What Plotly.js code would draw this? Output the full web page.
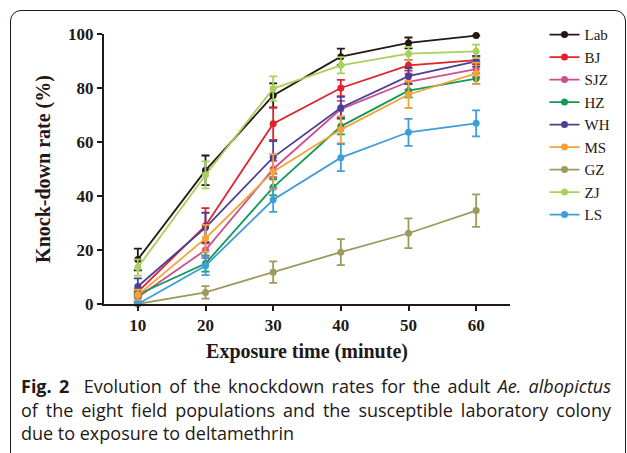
<!DOCTYPE html>
<html>
<head>
<meta charset="utf-8">
<script src="https://cdn.plot.ly/plotly-3.0.1.min.js"></script>
<style>
html,body{margin:0;padding:0;background:#fff;}
#wrap{position:relative;width:627px;height:453px;overflow:hidden;}
#chart{position:absolute;left:0;top:0;width:627px;height:453px;}
#box{position:absolute;left:10px;top:10px;width:616px;height:520px;border:1.3px solid #231815;border-radius:11px;pointer-events:none;box-sizing:border-box;}
#cap{position:absolute;left:21px;top:375px;width:590px;
  font-family:"Open Sans","Noto Sans",sans-serif;font-size:18px;line-height:23.5px;color:#231815;}
#cap div{white-space:nowrap;}
#cap .j{text-align:justify;text-align-last:justify;white-space:normal;}
</style>
</head>
<body>
<div id="wrap"><div id="chart"></div><div id="box"></div><div id="cap"></div></div>
<script>
const times = [10, 20, 30, 40, 50, 60];
const names = ["Lab", "BJ", "SJZ", "HZ", "WH", "MS", "GZ", "ZJ", "LS"];
const Lab = [16.5, 49.5, 77.2, 91.6, 96.7, 99.4];
const BJ  = [4.5, 29.0, 66.8, 80.0, 88.4, 90.3];
const SJZ = [2.5, 20.0, 50.0, 72.2, 82.3, 87.0];
const HZ  = [3.5, 15.0, 43.2, 65.8, 79.0, 83.5];
const WH  = [6.5, 28.3, 54.3, 72.7, 84.4, 89.9];
const MS  = [3.3, 24.3, 49.0, 64.6, 77.6, 85.4];
const GZ  = [0.0, 4.3, 11.8, 19.2, 26.2, 34.6];
const ZJ  = [13.5, 47.8, 79.8, 88.4, 92.7, 93.6];
const LS  = [0.0, 14.2, 38.6, 54.2, 63.6, 66.9];
const errLab = [4.0, 5.5, 4.5, 3.0, 2.0, 0.0];
const errBJ  = [1.0, 6.5, 6.0, 3.0, 2.0, 1.5];
const errSJZ = [1.5, 3.0, 3.0, 3.0, 3.0, 3.0];
const errHZ  = [1.0, 3.0, 3.0, 3.0, 2.5, 2.0];
const errWH  = [3.0, 5.5, 6.0, 4.0, 3.0, 2.0];
const errMS  = [2.0, 5.0, 6.5, 5.0, 5.0, 4.0];
const errGZ  = [0.0, 2.3, 4.0, 4.8, 5.5, 6.0];
const errZJ  = [3.0, 5.0, 4.5, 3.0, 2.5, 2.5];
const errLS  = [0.5, 3.5, 4.5, 5.0, 5.0, 4.8];

const series = [Lab, BJ, SJZ, HZ, WH, MS, GZ, ZJ, LS];
const errs = [errLab, errBJ, errSJZ, errHZ, errWH, errMS, errGZ, errZJ, errLS];
const colors = ["#231815", "#e4202a", "#cc4f8e", "#119a55", "#4b3f94", "#f5a23a", "#9c9a5c", "#a9d05b", "#3f9ed8"];

const capLines = [
  "<b>Fig. 2</b>&nbsp; Evolution of the knockdown rates for the adult <i>Ae. albopictus</i>",
  "of the eight field populations and the susceptible laboratory colony",
  "due to exposure to deltamethrin"
];
document.getElementById("cap").innerHTML = capLines.map((t, i) =>
  '<div class="' + (i < 2 ? 'j' : '') + '">' + t + '</div>').join("");

const traces = names.map((n, i) => ({
  type: "scatter",
  mode: "lines+markers",
  name: n,
  x: times,
  y: series[i],
  line: {color: colors[i], width: 1.8},
  marker: {color: colors[i], size: 7},
  error_y: {type: "data", array: errs[i], visible: true, color: colors[i], thickness: 1.8, width: 4},
  cliponaxis: false
}));

const serif = "Liberation Serif, Times New Roman, serif";

const layout = {
  width: 627, height: 453,
  margin: {l: 104, r: 115, t: 34, b: 149},
  paper_bgcolor: "rgba(0,0,0,0)",
  plot_bgcolor: "rgba(0,0,0,0)",
  showlegend: true,
  legend: {
    x: 1.085, y: 1.058, xanchor: "left", yanchor: "top",
    font: {family: serif, size: 15, color: "#231815"},
    traceorder: "normal",
    bgcolor: "rgba(0,0,0,0)"
  },
  xaxis: {
    range: [5, 65], tickvals: times, ticktext: times.map(String),
    showline: true, linecolor: "#231815", linewidth: 2,
    ticks: "outside", ticklen: 5, tickwidth: 2, tickcolor: "#231815",
    showgrid: false, zeroline: false,
    tickfont: {family: serif, size: 17, color: "#231815", weight: "bold"},
    title: {text: "Exposure time (minute)", font: {family: serif, size: 20, color: "#231815", weight: "bold"}, standoff: 10}
  },
  yaxis: {
    range: [0, 100], dtick: 20,
    showline: true, linecolor: "#231815", linewidth: 2,
    ticks: "outside", ticklen: 5, tickwidth: 2, tickcolor: "#231815",
    showgrid: false, zeroline: false,
    tickfont: {family: serif, size: 17, color: "#231815", weight: "bold"},
    title: {text: "Knock-down rate (%)", font: {family: serif, size: 20, color: "#231815", weight: "bold"}, standoff: 12}
  }
};

Plotly.newPlot("chart", traces, layout, {displayModeBar: false, staticPlot: true});
</script>
</body>
</html>
